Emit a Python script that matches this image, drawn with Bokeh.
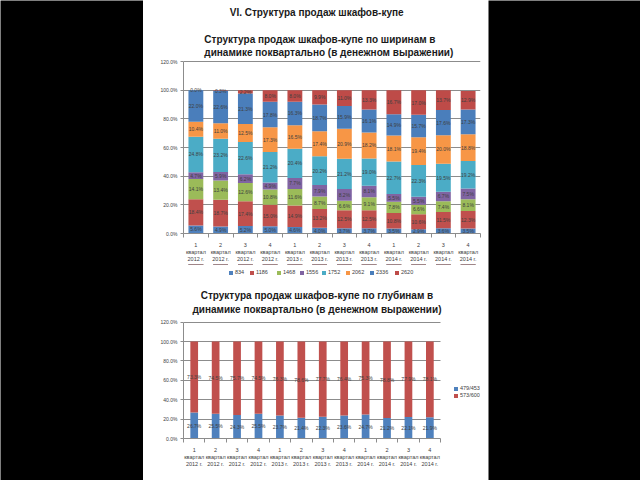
from bokeh.plotting import figure
from bokeh.models import (ColumnDataSource, Range1d, FixedTicker, PrintfTickFormatter,
                          Legend, LegendItem, Label)
from bokeh.layouts import row, column
from bokeh.core.properties import value
from bokeh.embed import file_html
from bokeh.resources import INLINE

# ---------------- data ----------------
quarters = ["1\nквартал\n2012 г.", "2\nквартал\n2012 г.", "3\nквартал\n2012 г.", "4\nквартал\n2012 г.",
            "1\nквартал\n2013 г.", "2\nквартал\n2013 г.", "3\nквартал\n2013 г.", "4\nквартал\n2013 г.",
            "1\nквартал\n2014 г.", "2\nквартал\n2014 г.", "3\nквартал\n2014 г.", "4\nквартал\n2014 г."]

width_names = ["834", "1186", "1468", "1556", "1752", "2062", "2336", "2620"]
w834 = [5.6, 4.9, 5.2, 5.0, 4.6, 4.0, 3.7, 3.7, 3.5, 2.9, 3.6, 3.5]
w1186 = [18.4, 18.7, 17.4, 15.0, 14.9, 13.2, 12.5, 12.5, 10.8, 10.6, 11.5, 12.3]
w1468 = [14.1, 13.4, 12.6, 10.8, 11.6, 8.7, 6.6, 9.1, 7.8, 6.6, 7.4, 8.1]
w1556 = [4.7, 5.9, 6.2, 4.9, 7.7, 7.9, 8.2, 8.1, 5.5, 5.5, 6.7, 7.5]
w1752 = [24.8, 23.2, 22.6, 21.2, 20.4, 20.2, 21.2, 19.0, 22.7, 22.3, 19.5, 19.2]
w2062 = [10.4, 11.0, 12.5, 17.3, 16.5, 17.4, 20.9, 18.2, 18.1, 19.4, 20.0, 18.8]
w2336 = [22.0, 22.6, 21.3, 17.8, 16.3, 18.7, 15.9, 16.1, 14.9, 15.7, 17.6, 17.3]
w2620 = [0.0, 0.3, 2.2, 8.0, 8.0, 9.9, 11.0, 13.3, 16.7, 17.0, 13.7, 12.9]
width_values = [w834, w1186, w1468, w1556, w1752, w2062, w2336, w2620]
width_colors = ["#4F81BD", "#C0504D", "#9BBB59", "#8064A2", "#4BACC6", "#F79646", "#4A7EBB", "#BE4B48"]

depth_names = ["479/453", "573/600"]
d479 = [26.7, 25.5, 24.3, 25.5, 23.7, 21.4, 22.3, 23.6, 24.7, 21.2, 22.1, 21.9]
d573 = [73.3, 74.5, 75.7, 74.5, 76.3, 78.6, 77.7, 76.4, 75.3, 78.8, 77.9, 78.1]
depth_values = [d479, d573]
depth_colors = ["#4F81BD", "#C0504D"]

y_ticks = [0, 20, 40, 60, 80, 100, 120]

slide_title = "VI. Структура продаж шкафов-купе"
title1 = ["Структура продаж шкафов-купе по ширинам в",
          "динамике поквартально (в денежном выражении)"]
title2 = ["Структура продаж шкафов-купе по глубинам в",
          "динамике поквартально (в денежном выражении)"]

FONT = "Liberation Sans"
TXT = "#404040"
AX = "#8C8C8C"

xs = list(range(len(quarters)))
x_labels = {i: q for i, q in enumerate(quarters)}
x_bounds = [i - 0.5 for i in range(len(quarters) + 1)]


def style_axes(p, x_end):
    p.xgrid.visible = False
    p.outline_line_color = None
    p.background_fill_color = "white"
    p.border_fill_color = "white"
    xa = p.xaxis[0]
    xa.ticker = FixedTicker(ticks=xs, minor_ticks=x_bounds)
    xa.major_label_overrides = x_labels
    xa.bounds = (-0.5, x_end)
    xa.major_tick_out = 0
    xa.major_tick_in = 0
    xa.minor_tick_out = 4
    xa.minor_tick_in = 0
    xa.minor_tick_line_color = AX
    xa.axis_line_color = AX
    xa.major_label_text_font = FONT
    xa.major_label_text_font_size = "5.5px"
    xa.major_label_text_color = TXT
    xa.major_label_standoff = 4
    ya = p.yaxis[0]
    ya.ticker = FixedTicker(ticks=y_ticks)
    ya.formatter = PrintfTickFormatter(format="%.1f%%")
    ya.bounds = (0, 120)
    ya.major_tick_out = 3
    ya.major_tick_in = 0
    ya.minor_tick_line_color = None
    ya.axis_line_color = AX
    ya.major_tick_line_color = AX
    ya.major_label_text_font = FONT
    ya.major_label_text_font_size = "5px"
    ya.major_label_text_color = TXT
    ya.major_label_standoff = 3
    g = p.ygrid[0]
    g.ticker = FixedTicker(ticks=y_ticks)
    g.bounds = (0, 120)
    g.grid_line_color = AX
    g.grid_line_width = 1


def seg_labels(values_list):
    lx, ly, lt = [], [], []
    base = [0.0] * len(xs)
    for vals in values_list:
        for i, v in enumerate(vals):
            lx.append(i)
            ly.append(base[i] + v / 2.0)
            lt.append("%.1f%%" % v)
            base[i] += v
    return dict(x=lx, y=ly, t=lt)


def bare_figure(w, h, xr, yr, fill):
    b = figure(width=w, height=h, x_range=xr, y_range=yr,
               x_axis_location=None, y_axis_location=None,
               output_backend="svg", toolbar_location=None,
               min_border_left=0, min_border_right=0, min_border_top=0, min_border_bottom=0)
    b.grid.visible = False
    b.outline_line_color = None
    b.background_fill_color = fill
    b.border_fill_color = fill
    return b


def make_legend(items, loc, orientation="vertical"):
    return Legend(items=items, orientation=orientation, location=loc, glyph_width=5, glyph_height=5,
                  label_text_font=FONT, label_text_font_size="5.5px", label_text_color=TXT,
                  label_height=6, label_width=6, label_standoff=2, spacing=1, padding=1, margin=0,
                  border_line_color=None, background_fill_alpha=0)


# ---------------- chart 1 (widths) ----------------
p1 = figure(width=345, height=264, x_range=Range1d(-0.5, 11.5), y_range=Range1d(0, 236 / 1.45),
            output_backend="svg", toolbar_location=None,
            min_border_left=38, min_border_right=8, min_border_top=0, min_border_bottom=28)
style_axes(p1, 11.5)

src1 = ColumnDataSource(dict(x=xs, **{n: v for n, v in zip(width_names, width_values)}))
rs1 = p1.vbar_stack(width_names, x="x", width=0.6, color=width_colors, source=src1, line_color=None)
p1.text(x="x", y="y", text="t", source=ColumnDataSource(seg_labels(width_values)),
        text_align="center", text_baseline="middle", text_font=value(FONT),
        text_font_size="5px", text_color=TXT)

p1.add_layout(Label(x=4.88, y=154.5, text=slide_title, text_align="center", text_baseline="middle",
                    text_font=FONT, text_font_size="10px", text_font_style="bold", text_color="#1a1a1a"))
for k, line in enumerate(title1):
    p1.add_layout(Label(x=0.34, y=135.2 - k * 9.0, text=line, text_align="left", text_baseline="middle",
                        text_font=FONT, text_font_size="10px", text_font_style="bold",
                        text_color="#1a1a1a"))

# legend strip of chart 1 (its own small canvas below the axis labels);
# the same bars are stacked there but lie outside its visible y range
pl = bare_figure(345, 18, Range1d(-0.5, 11.5), Range1d(-2, -1), "white")
leg_rs = pl.vbar_stack(width_names, x="x", width=0.6, color=width_colors, source=src1, line_color=None)
legend_offsets = [45, 66, 93, 116, 138, 162, 186, 211]
for n, r, off in zip(width_names, leg_rs, legend_offsets):
    pl.add_layout(make_legend([LegendItem(label=n, renderers=[r])], (off, 7)))

# ---------------- chart 2 (depths) ----------------
p2 = figure(width=345, height=198, x_range=Range1d(-0.5, -0.5 + 305 / 22.0), y_range=Range1d(0, 156 / 0.97),
            output_backend="svg", toolbar_location=None,
            min_border_left=40, min_border_right=0, min_border_top=0, min_border_bottom=42)
style_axes(p2, 11.5)
p2.ygrid[0].cross_bounds = (-0.5, 11.5)

src2 = ColumnDataSource(dict(x=xs, **{n: v for n, v in zip(depth_names, depth_values)}))
rs2 = p2.vbar_stack(depth_names, x="x", width=0.36, color=depth_colors, source=src2, line_color=None)
p2.text(x="x", y="y", text="t", source=ColumnDataSource(seg_labels(depth_values)),
        text_align="center", text_baseline="middle", text_font=value(FONT),
        text_font_size="5px", text_color=TXT)

p2.add_layout(make_legend([LegendItem(label=n, renderers=[r]) for n, r in zip(depth_names, rs2)], (270, 40)))

for k, line in enumerate(title2):
    p2.add_layout(Label(x=5.73, y=147.4 - k * 14.4, text=line, text_align="center", text_baseline="middle",
                        text_font=FONT, text_font_size="10px", text_font_style="bold",
                        text_color="#1a1a1a"))

left_black = bare_figure(143, 480, Range1d(0, 1), Range1d(0, 1), "black")
right_black = bare_figure(152, 480, Range1d(0, 1), Range1d(0, 1), "black")

layout = row(left_black, column(p1, pl, p2), right_black)
open("out.html", "w").write(file_html(layout, INLINE))
